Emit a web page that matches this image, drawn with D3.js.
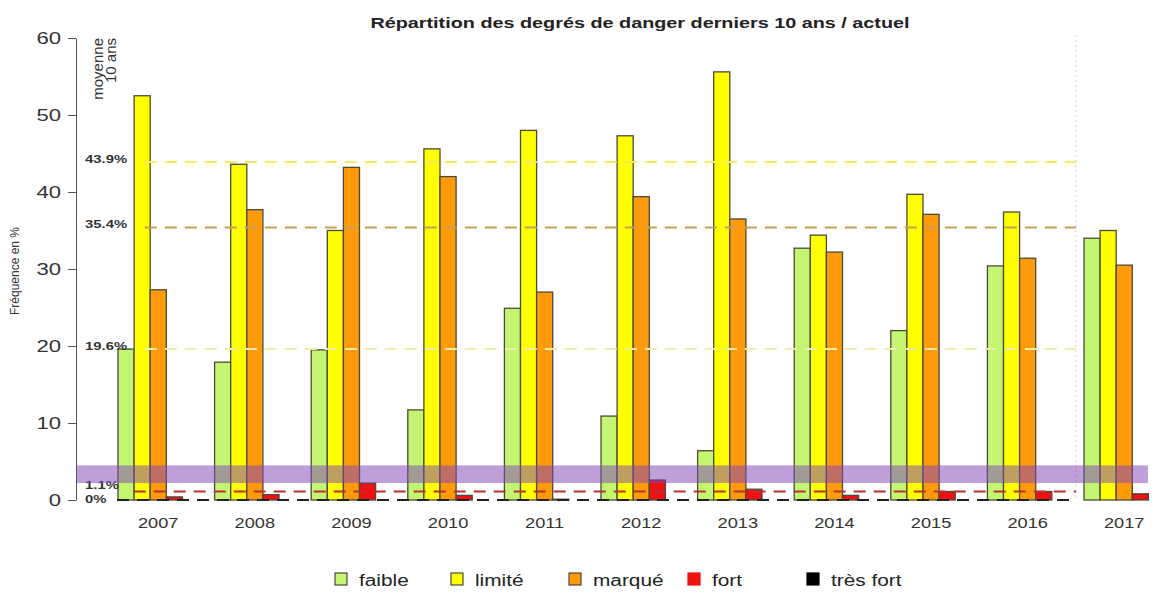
<!DOCTYPE html>
<html>
<head>
<meta charset="utf-8">
<script src="https://cdn.jsdelivr.net/npm/d3@7"></script>
<style>
  body { margin: 0; background: #fff; }
  text { font-family: "Liberation Sans", Arial, sans-serif; }
</style>
</head>
<body>
<script>
// Data
const years = ["2007", "2008", "2009", "2010", "2011", "2012", "2013", "2014", "2015", "2016", "2017"]
const levels = ["faible", "limité", "marqué", "fort", "très fort"]
const faible = [19.6, 17.9, 19.5, 11.7, 24.9, 10.9, 6.4, 32.7, 22.0, 30.4, 34.0]
const limite = [52.5, 43.6, 35.0, 45.6, 48.0, 47.3, 55.6, 34.4, 39.7, 37.4, 35.0]
const marque = [27.3, 37.7, 43.2, 42.0, 27.0, 39.4, 36.5, 32.2, 37.1, 31.4, 30.5]
const fort = [0.4, 0.7, 2.2, 0.6, 0.1, 2.6, 1.4, 0.6, 1.1, 1.1, 0.8]
const tresFort = [0, 0, 0, 0, 0, 0, 0, 0, 0, 0, 0]
const averages = [19.6, 43.9, 35.4, 1.1, 0]
const averageLabels = ["19.6%", "43.9%", "35.4%", "1.1%", "0%"]
const yTicks = [0, 10, 20, 30, 40, 50, 60]
const band = [2.2, 4.5]

const series = [faible, limite, marque, fort, tresFort]
const colors = ["#c4f570", "#ffff00", "#ff9a0a", "#ee1111", "#000000"]
const avgColors = ["#eeeeaa", "#f2ea60", "#c8a055", "#b83030", "#222222"]

// Dimensions
const width = 1161
const height = 592

const svg = d3.select("body")
  .append("svg")
  .attr("width", width)
  .attr("height", height)

// The picture is wider than tall, so texts are stretched sideways
const stretch = (sel, k) => sel.each(function () {
  const w = this.getComputedTextLength()
  d3.select(this)
    .attr("textLength", w * k)
    .attr("lengthAdjust", "spacingAndGlyphs")
})

// Scales
const y = d3.scaleLinear().domain([0, 60]).range([500, 38])

const x = d3.scaleBand()
  .domain(years)
  .range([118, 1164.5])
  .paddingInner(1 / 6)
  .paddingOuter(0)

const xInner = d3.scaleBand()
  .domain(levels)
  .range([0, x.bandwidth()])

// Title
svg.append("text")
  .attr("x", 640)
  .attr("y", 28)
  .attr("text-anchor", "middle")
  .style("font-size", "15px")
  .style("font-weight", "bold")
  .style("fill", "#222")
  .text("Répartition des degrés de danger derniers 10 ans / actuel")
  .call(stretch, 1.32)

// Y label
svg.append("text")
  .attr("transform", "translate(19, 271) rotate(-90)")
  .attr("text-anchor", "middle")
  .style("font-size", "12px")
  .style("fill", "#333")
  .text("Fréquence en %")

// "moyenne 10 ans"
const moy = svg.append("text")
  .attr("transform", "translate(103, 38) rotate(-90)")
  .attr("text-anchor", "end")
  .style("font-size", "15px")
  .style("fill", "#333")
moy.append("tspan").attr("x", 0).attr("y", 0).text("moyenne")
moy.append("tspan").attr("x", 0).attr("y", 13).text("10 ans")

// Vertical separator before current year
const sepX = x("2017") - (x.step() - x.bandwidth()) / 2
svg.append("line")
  .attr("x1", sepX).attr("x2", sepX)
  .attr("y1", 35).attr("y2", 500)
  .style("stroke", "#cfcfd8")
  .style("stroke-dasharray", "2,3")

// Bars
const rows = years.map((yr, i) => ({
  year: yr,
  values: levels.map((lv, j) => ({ level: lv, value: series[j][i], color: colors[j] }))
}))

svg.append("g")
  .selectAll("g")
  .data(rows)
  .join("g")
  .attr("transform", d => `translate(${x(d.year)}, 0)`)
  .selectAll("rect")
  .data(d => d.values)
  .join("rect")
  .attr("x", d => xInner(d.level))
  .attr("y", d => y(d.value))
  .attr("width", xInner.bandwidth())
  .attr("height", d => y(0) - y(d.value))
  .attr("fill", d => d.color)
  .style("stroke", "#4a4a36")
  .style("stroke-width", 1.3)

// Average lines with labels
const avgG = svg.append("g")
averages.forEach((v, i) => {
  const shift = v === 0 ? 3 : (v < 5 ? -3 : 1)
  const label = avgG.append("text")
    .attr("x", 85)
    .attr("y", y(v) + shift)
    .style("font-size", "11px")
    .style("font-weight", "bold")
    .style("fill", "#333")
    .text(averageLabels[i])
    .call(stretch, 1.35)
  const w = label.node().getComputedTextLength() * 1.35
  avgG.append("line")
    .attr("x1", 85 + w + 3)
    .attr("x2", sepX)
    .attr("y1", y(v))
    .attr("y2", y(v))
    .style("stroke", avgColors[i])
    .style("stroke-width", 2)
    .style("stroke-dasharray", "12,8")
})

// Current-range band
svg.append("rect")
  .attr("x", 76)
  .attr("y", y(band[1]))
  .attr("width", 1148 - 76)
  .attr("height", y(band[0]) - y(band[1]))
  .attr("fill", "#8246b8")
  .attr("opacity", 0.52)

// Y axis
const axisY = svg.append("g")
  .attr("transform", "translate(76, 0)")
  .call(d3.axisLeft(y).tickValues(yTicks).tickSize(8).tickSizeOuter(0).tickPadding(7))
axisY.selectAll("text").style("font-size", "17px").style("fill", "#333").call(stretch, 1.3)
axisY.selectAll("line, path").style("stroke", "#555")

// X axis (labels only)
const axisX = svg.append("g")
  .attr("transform", "translate(0, 500)")
  .call(d3.axisBottom(x).tickSize(0).tickPadding(18))
axisX.select(".domain").remove()
axisX.selectAll("text").style("font-size", "14px").style("fill", "#333").call(stretch, 1.3)

// Legend
const legendX = [335, 451, 569, 688, 807]
const legend = svg.append("g")
  .selectAll("g")
  .data(levels)
  .join("g")
  .attr("transform", (d, i) => `translate(${legendX[i]}, 573)`)

legend.append("rect")
  .attr("width", 12)
  .attr("height", 12)
  .attr("fill", (d, i) => colors[i])
  .style("stroke", (d, i) => i >= 3 ? colors[i] : "#4a4a36")
  .style("stroke-width", 1.2)

legend.append("text")
  .attr("x", 24)
  .attr("y", 13)
  .style("font-size", "16px")
  .style("fill", "#222")
  .text(d => d)
  .call(stretch, 1.3)
</script>
</body>
</html>
